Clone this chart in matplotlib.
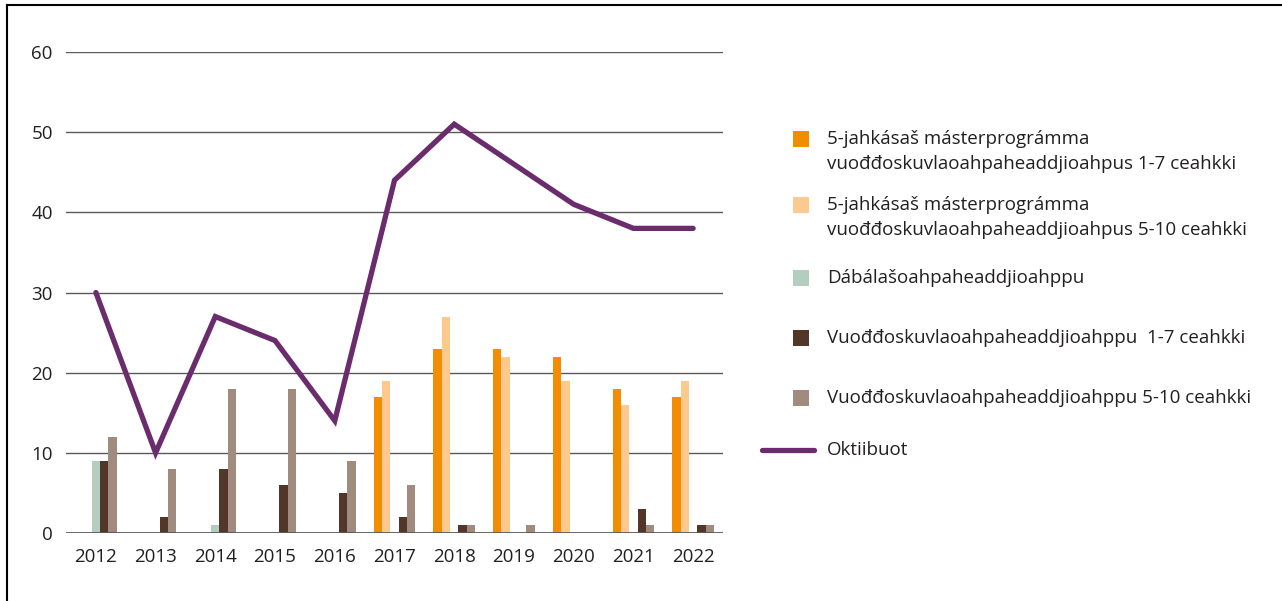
import matplotlib
matplotlib.use("Agg")
import matplotlib.pyplot as plt
import numpy as np
from matplotlib.patches import Rectangle
from matplotlib.lines import Line2D

years = ["2012", "2013", "2014", "2015", "2016", "2017", "2018", "2019", "2020", "2021", "2022"]
master_1_7 = [0, 0, 0, 0, 0, 17, 23, 23, 22, 18, 17]
master_5_10 = [0, 0, 0, 0, 0, 19, 27, 22, 19, 16, 19]
dabala = [9, 0, 1, 0, 0, 0, 0, 0, 0, 0, 0]
vuoddo_1_7 = [9, 2, 8, 6, 5, 2, 1, 0, 0, 3, 1]
vuoddo_5_10 = [12, 8, 18, 18, 9, 6, 1, 1, 0, 1, 1]
oktiibuot = [30, 10, 27, 24, 14, 44, 51, 46, 41, 38, 38]

labels = [
    "5-jahkásaš másterprográmma\nvuođđoskuvlaoahpaheaddjioahpus 1-7 ceahkki",
    "5-jahkásaš másterprográmma\nvuođđoskuvlaoahpaheaddjioahpus 5-10 ceahkki",
    "Dábálašoahpaheaddjioahppu",
    "Vuođđoskuvlaoahpaheaddjioahppu  1-7 ceahkki",
    "Vuođđoskuvlaoahpaheaddjioahppu 5-10 ceahkki",
    "Oktiibuot",
]
colors = ["#F28C00", "#FDC98E", "#B3CDBE", "#523629", "#A08B7E"]
line_color = "#6B2C6E"
text_color = "#231F20"

plt.rcParams["font.family"] = ["Open Sans", "DejaVu Sans"]

W, H = 1282, 601
fig = plt.figure(figsize=(W / 100, H / 100), dpi=100)

def fx(px):
    return px / W

def fy(py):
    return 1 - py / H

ax_left, ax_right, ax_top, ax_bot = 66, 723, 52, 533
ax = fig.add_axes([fx(ax_left), fy(ax_bot), (ax_right - ax_left) / W, (ax_bot - ax_top) / H])

x = np.arange(len(years))
bw = 0.14
series = [master_1_7, master_5_10, dabala, vuoddo_1_7, vuoddo_5_10]
offsets = [-2, -1, 0, 1, 2]
for vals, c, o in zip(series, colors, offsets):
    ax.bar(x + o * bw, vals, width=bw, color=c, zorder=3, linewidth=0)

ax.plot(x, oktiibuot, color=line_color, lw=3.8, zorder=4, solid_capstyle="round", solid_joinstyle="miter")

ax.set_xlim(-0.5, len(years) - 0.5)
ax.set_ylim(0, 60)
ax.set_yticks(range(0, 61, 10))
ax.set_xticks(x)
ax.set_xticklabels(years)
for s in ax.spines.values():
    s.set_visible(False)
ax.tick_params(axis="both", length=0, labelsize=13.5, colors=text_color)
ax.tick_params(axis="y", pad=9.5)
ax.tick_params(axis="x", pad=11)
for yv in range(10, 61, 10):
    ax.axhline(yv, color="#5a5a5a", lw=1.0, zorder=1)
ax.axhline(0, color="#5a5a5a", lw=1.3, zorder=5)

# Legend (manual)
sq = 16
entries = [139, 205, 278, 338, 398]
for i, (cy, c) in enumerate(zip(entries, colors)):
    fig.add_artist(Rectangle((fx(793), fy(cy + sq / 2)), sq / W, sq / H,
                             transform=fig.transFigure, color=c, lw=0))
    for j, line in enumerate(labels[i].split("\n")):
        fig.text(fx(827), fy(cy + j * 25), line, ha="left", va="center",
                 fontsize=13.5, color=text_color)
fig.add_artist(Line2D([fx(762), fx(814)], [fy(450), fy(450)], transform=fig.transFigure,
                      color=line_color, lw=3.8, solid_capstyle="round"))
fig.text(fx(827), fy(450), labels[5], ha="left", va="center", fontsize=13.5, color=text_color)

# border (left and top)
fig.add_artist(Line2D([fx(7), fx(7)], [fy(5), 0], transform=fig.transFigure, color="black", lw=1.5))
fig.add_artist(Line2D([fx(7), 1], [fy(5), fy(5)], transform=fig.transFigure, color="black", lw=1.5))

fig.savefig("out.png", dpi=100)
